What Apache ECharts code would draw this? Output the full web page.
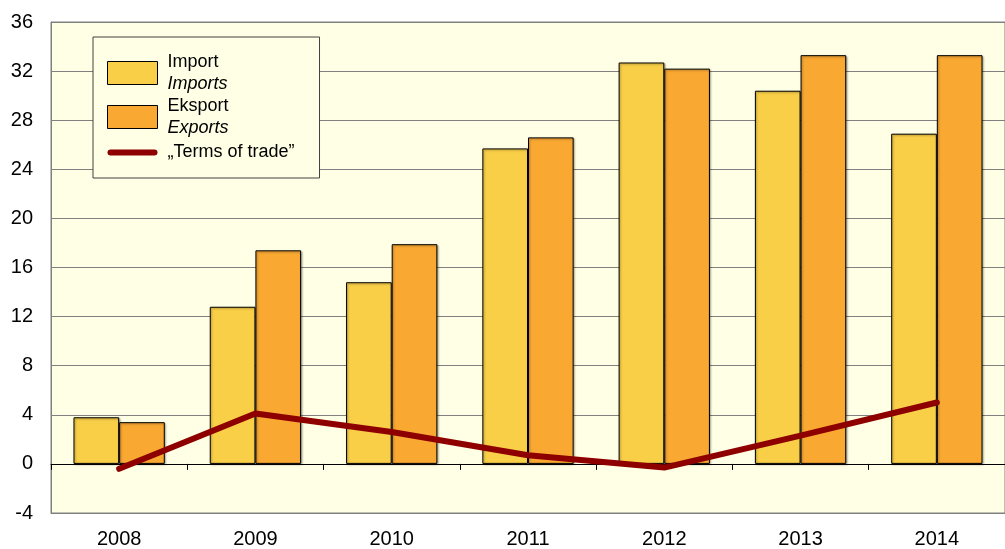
<!DOCTYPE html>
<html>
<head>
<meta charset="utf-8">
<script src="https://cdn.jsdelivr.net/npm/echarts@6/dist/echarts.min.js"></script>
<style>
  html, body { margin: 0; padding: 0; background: #fff; }
  #chart { width: 1005px; height: 549px; }
</style>
</head>
<body>
<div id="chart"></div>
<script>
// lata
const years = ['2008', '2009', '2010', '2011', '2012', '2013', '2014']
// wartości
const importVals = [3.8, 12.8, 14.8, 25.7, 32.7, 30.4, 26.9]
const exportVals = [3.4, 17.4, 17.9, 26.6, 32.2, 33.3, 33.3]
const totVals = [-0.4, 4.1, 2.6, 0.7, -0.3, 2.3, 5.0]

const FONT = '"Liberation Sans", Arial, sans-serif'

// opis legendy: nazwa -> druga linia (kursywa)
const legendSub = {
  'Import': 'Imports',
  'Eksport': 'Exports'
}

let myChart = echarts.init(document.getElementById('chart'))

myChart.setOption({
  animation: false,
  textStyle: { fontFamily: FONT, color: '#000' },
  grid: {
    left: 51,
    top: 22,
    right: -10,
    bottom: 36,
    show: true,
    backgroundColor: '#FFFFE5',
    borderColor: '#808080',
    borderWidth: 1
  },
  legend: {
    orient: 'vertical',
    left: 93,
    top: 37,
    padding: [16, 25, 14, 14],
    backgroundColor: '#FFFFE5',
    borderColor: '#404040',
    borderWidth: 1,
    itemWidth: 50,
    itemHeight: 23,
    itemGap: 4,
    itemStyle: { borderWidth: 1, borderColor: '#000' },
    data: [
      { name: 'Import', icon: 'rect' },
      { name: 'Eksport', icon: 'rect' },
      // gruba linia - sama kreska, bez symbolu
      { name: '„Terms of trade”', icon: 'path://M0,0M50,23M3,8.5L47,8.5A3,3,0,0,1,47,14.5L3,14.5A3,3,0,0,1,3,8.5Z', itemStyle: { borderWidth: 0 } }
    ],
    formatter: name => {
      if (legendSub[name]) {
        return '{a|' + name + '}\n{b|' + legendSub[name] + '}'
      }
      return '{c|' + name + '}'
    },
    textStyle: {
      fontFamily: FONT,
      rich: {
        a: { fontSize: 18, lineHeight: 22, color: '#000', padding: [0, 0, 0, 5], fontFamily: FONT },
        b: { fontSize: 18, lineHeight: 22, color: '#000', fontStyle: 'italic', padding: [0, 0, 0, 5], fontFamily: FONT },
        c: { fontSize: 18, lineHeight: 26, color: '#000', padding: [0, 0, 0, 5], fontFamily: FONT }
      }
    }
  },
  xAxis: [
    {
      // dolna oś z etykietami
      type: 'category',
      data: years,
      position: 'bottom',
      axisLine: { onZero: false, lineStyle: { color: '#808080', width: 1 } },
      axisTick: { show: false },
      axisLabel: { fontSize: 20, color: '#000', margin: 16, fontFamily: FONT }
    },
    {
      // linia zera ze znacznikami
      type: 'category',
      data: years,
      position: 'top',
      axisLine: { onZero: true, lineStyle: { color: '#000', width: 1 } },
      axisTick: { show: true, inside: true, length: 6, lineStyle: { color: '#000' } },
      axisLabel: { show: false },
      splitLine: { show: false }
    }
  ],
  yAxis: {
    type: 'value',
    min: -4,
    max: 36,
    interval: 4,
    axisLine: { show: true, lineStyle: { color: '#808080' } },
    axisTick: { show: false },
    axisLabel: { fontSize: 20, color: '#000', margin: 18, fontFamily: FONT },
    splitLine: { show: true, lineStyle: { color: '#808080', width: 1 } }
  },
  series: [
    {
      name: 'Import',
      type: 'bar',
      data: importVals,
      barGap: '0%',
      barCategoryGap: '33%',
      itemStyle: {
        color: '#F9CF48', borderColor: '#000', borderWidth: 1,
        shadowColor: 'rgba(0,0,0,0.35)', shadowBlur: 2, shadowOffsetX: 1, shadowOffsetY: 1
      }
    },
    {
      name: 'Eksport',
      type: 'bar',
      data: exportVals,
      itemStyle: {
        color: '#F9A832', borderColor: '#000', borderWidth: 1,
        shadowColor: 'rgba(0,0,0,0.35)', shadowBlur: 2, shadowOffsetX: 1, shadowOffsetY: 1
      }
    },
    {
      name: '„Terms of trade”',
      type: 'line',
      data: totVals,
      symbol: 'none',
      color: '#8E0000',
      lineStyle: { color: '#8E0000', width: 6, cap: 'round', join: 'round' },
      z: 5
    }
  ]
})
</script>
</body>
</html>
